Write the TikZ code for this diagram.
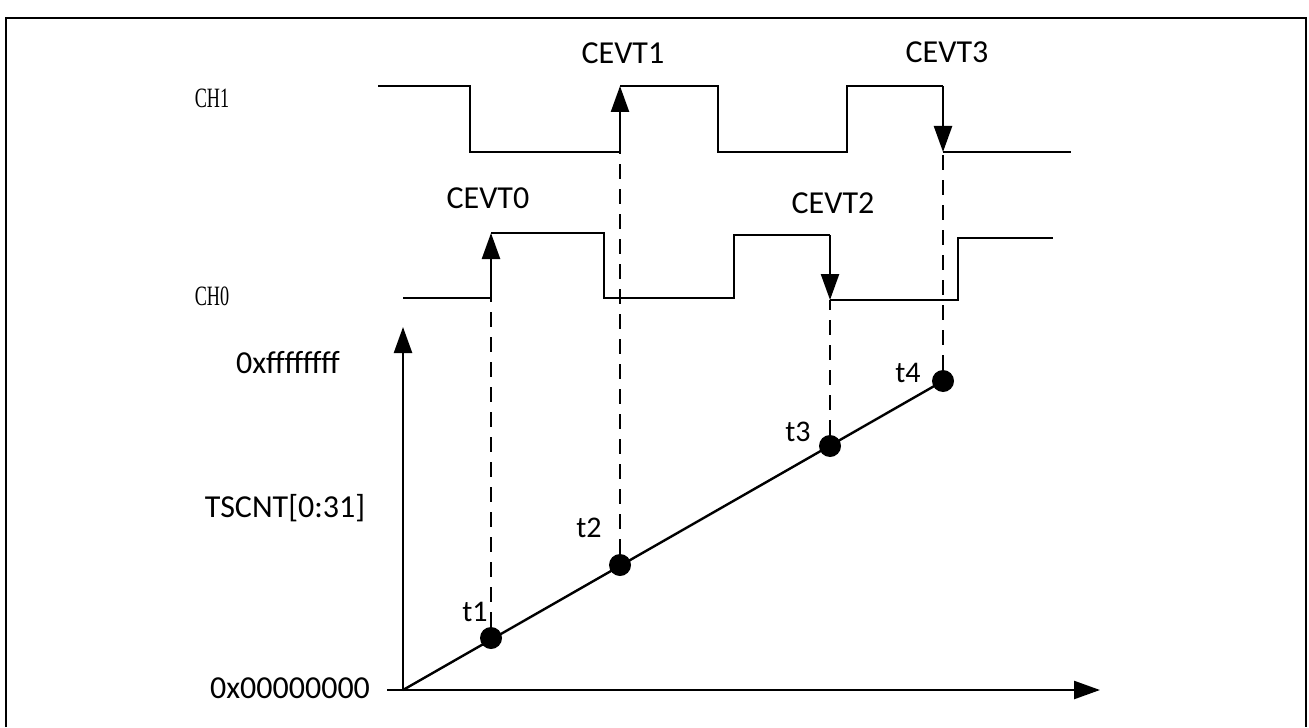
\documentclass[tikz,border=0pt]{standalone}
\usepackage{fontspec}
\setmainfont{Carlito}
\newfontfamily\chfont[FakeStretch=0.65]{Liberation Serif}
\usetikzlibrary{arrows.meta,positioning}
\tikzset{
  wave/.style={line width=1.2pt, line join=miter},
  edgearrow/.style={line width=1.2pt, -{Triangle[length=13pt,width=9pt]}},
  axisarrow/.style={line width=1.2pt, -{Triangle[length=13pt,width=9pt]}},
  dropline/.style={line width=1.1pt, dash pattern=on 7.5pt off 5pt},
  tdot/.style={circle, fill=black, inner sep=0pt, minimum size=11pt},
  evlabel/.style={font=\fontsize{16}{19}\selectfont, inner sep=0pt},
  tlabel/.style={font=\fontsize{15}{18}\selectfont, inner sep=0pt},
  chlabel/.style={font=\chfont\fontsize{14}{16}\selectfont, inner sep=0pt}
}

\begin{document}
\begin{tikzpicture}[x=0.5pt,y=-0.5pt]
    \useasboundingbox (0,0) rectangle (1309,727);
    % frame
    \draw[line width=1.3pt] (6,727) -- (6,18) -- (1306,18) -- (1306,727);

    % axes and counter ramp
    \coordinate (orig) at (403,690);
    \coordinate (xstart) at (387,690);
    \coordinate (xend) at (1100,690);
    \coordinate (yend) at (403,327);
    \draw[axisarrow] (xstart) -- (xend);
    \draw[axisarrow] (orig) -- (yend);
    \node[evlabel] (ymax) at (288,363) {0xffffffff};
    \node[evlabel] (yname) at (285,508) {TSCNT[0:31]};
    \node[evlabel] (ymin) at (290,688) {0x00000000};

    \node[tdot] (t1) at (491,638) {};
    \node[tdot] (t2) at (620,565) {};
    \node[tdot] (t3) at (830,446) {};
    \node[tdot] (t4) at (943,381) {};
    \draw[line width=1.2pt] (orig) -- (t4.center);
    \node[tlabel] (t1lbl) at (475,612) {t1};
    \node[tlabel] (t2lbl) at (589,528) {t2};
    \node[tlabel] (t3lbl) at (798,432) {t3};
    \node[tlabel] (t4lbl) at (908,373) {t4};

    % capture edges
    \coordinate (e0lo) at (491,298);
    \coordinate (e0hi) at (491,233);
    \coordinate (e1lo) at (620,152);
    \coordinate (e1hi) at (620,86);
    \coordinate (e2hi) at (830,235);
    \coordinate (e2lo) at (830,300);
    \coordinate (e3hi) at (943,86);
    \coordinate (e3lo) at (943,152);

    \draw[dropline] (t1) -- (e0lo);
    \draw[dropline] (t2) -- (e1lo);
    \draw[dropline] (t3) -- (e2lo);
    \draw[dropline] (t4) -- (e3lo);

    % CH1
    \node[chlabel] (ch1) at (212,98) {CH1};
    \draw[wave] (378,86) -- (470,86) -- (470,152) -- (e1lo);
    \draw[edgearrow] (e1lo) -- (e1hi);
    \draw[wave] (e1hi) -- (718,86) -- (718,152) -- (847,152) -- (847,86) -- (e3hi);
    \draw[edgearrow] (e3hi) -- (e3lo);
    \draw[wave] (e3lo) -- (1071,152);
    \node[evlabel] (cevt1) at (623,53) {CEVT1};
    \node[evlabel] (cevt3) at (947,52) {CEVT3};

    % CH0
    \node[chlabel] (ch0) at (212,296) {CH0};
    \draw[wave] (403,298) -- (e0lo);
    \draw[edgearrow] (e0lo) -- (e0hi);
    \draw[wave] (e0hi) -- (604,233) -- (604,298) -- (734,298) -- (734,235) -- (e2hi);
    \draw[edgearrow] (e2hi) -- (e2lo);
    \draw[wave] (e2lo) -- (958,300) -- (958,238) -- (1053,238);
    \node[evlabel] (cevt0) at (488,198) {CEVT0};
    \node[evlabel] (cevt2) at (833,203) {CEVT2};
\end{tikzpicture}
\end{document}
